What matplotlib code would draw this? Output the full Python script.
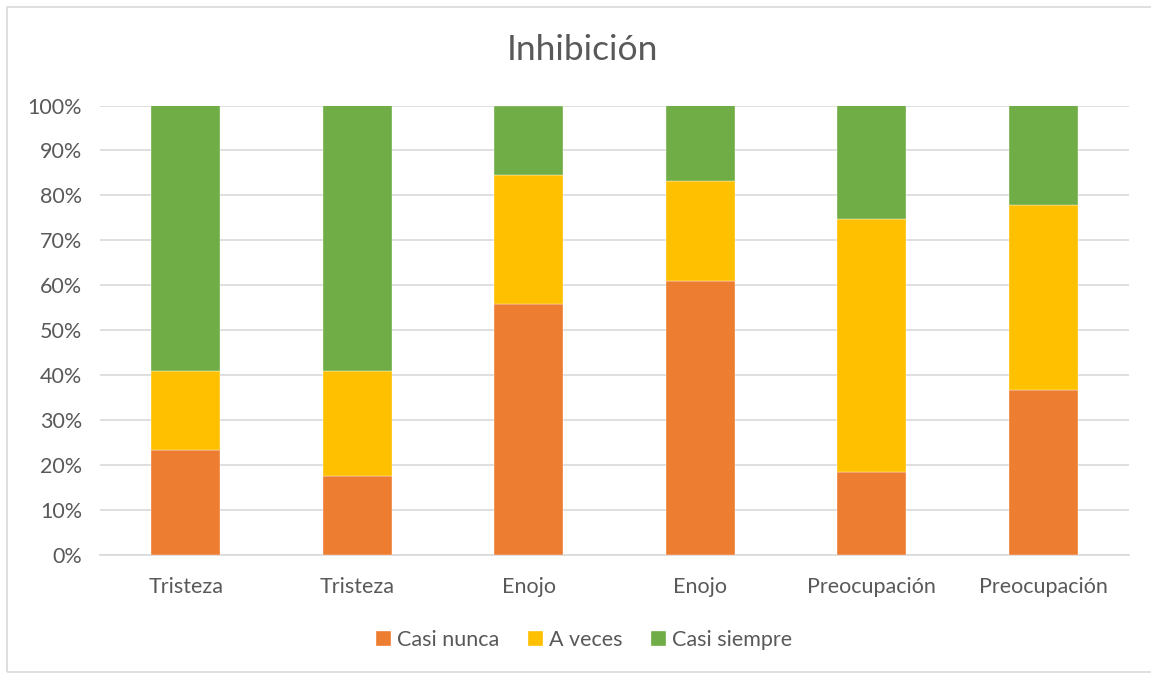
import numpy as np
import matplotlib.pyplot as plt
from matplotlib.patches import Rectangle

# Inhibición: stacked 100% bars
categorias = ['Tristeza', 'Tristeza', 'Enojo', 'Enojo', 'Preocupación', 'Preocupación']
casi_nunca = np.array([23.3, 17.5, 55.8, 61.0, 18.5, 36.6])
a_veces = np.array([17.7, 23.5, 28.7, 22.2, 56.3, 41.2])
casi_siempre = 100 - casi_nunca - a_veces

series = ['Casi nunca', 'A veces', 'Casi siempre']
colores = ['#ED7D31', '#FFC000', '#70AD47']
texto = '#595959'

plt.rcParams['font.family'] = ['Lato', 'DejaVu Sans']

fig = plt.figure(figsize=(11.51, 6.75), dpi=100)
ax = fig.add_axes([100 / 1151, 1 - 555 / 675, 1029 / 1151, 449.5 / 675])

x = np.arange(len(categorias))
bottom = np.zeros(len(categorias))
for nombre, vals, c in zip(series, [casi_nunca, a_veces, casi_siempre], colores):
    ax.bar(x, vals, bottom=bottom, width=0.40, color=c, label=nombre,
           edgecolor='#ffffff', linewidth=0.25, zorder=3)
    bottom += vals

ax.set_xlim(-0.5, len(categorias) - 0.5)
ax.set_ylim(0, 100)
ax.set_yticks(np.arange(0, 101, 10))
ax.set_yticklabels([f'{v}%' for v in range(0, 101, 10)])
ax.set_xticks(x)
ax.set_xticklabels(categorias)
ax.tick_params(axis='both', length=0, labelsize=15.5, colors=texto)
ax.tick_params(axis='y', pad=13)
ax.tick_params(axis='x', pad=16)
ax.grid(axis='y', color='#d9d9d9', linewidth=1.2, zorder=0)
for s in ['top', 'right', 'left']:
    ax.spines[s].set_visible(False)
ax.spines['bottom'].set_color('#d9d9d9')
ax.spines['bottom'].set_linewidth(1.2)

fig.text(582 / 1151, 1 - 50 / 675, 'Inhibición', ha='center', va='center',
         fontsize=25.5, color=texto)

leg = fig.legend(loc='center', bbox_to_anchor=(584 / 1151, 1 - 640 / 675), ncol=3,
                 frameon=False, fontsize=15.5, handlelength=0.7, handleheight=0.7,
                 handletextpad=0.3, columnspacing=1.3)
for t in leg.get_texts():
    t.set_color(texto)

fig.patches.append(Rectangle((7 / 1151, 3 / 675), 1.1, 665 / 675, transform=fig.transFigure,
                             fill=False, edgecolor='#d9d9d9', linewidth=1.2))

fig.savefig('out.png', dpi=100)
